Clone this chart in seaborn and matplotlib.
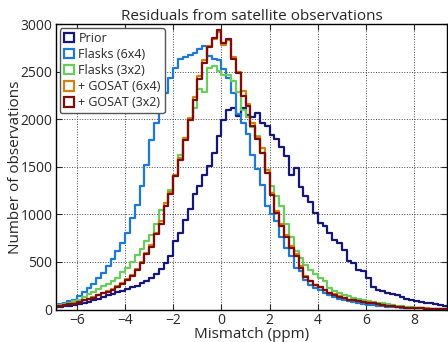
import numpy as np
import pandas as pd
import seaborn as sns
import matplotlib.pyplot as plt
from matplotlib.patches import Patch

# bins of 0.2 ppm, edges from -7.0 to 9.6
bin_edges = [round(-7.0 + 0.2 * i, 1) for i in range(84)]

series_names = ["Prior", "Flasks (6x4)", "Flasks (3x2)", "+ GOSAT (6x4)", "+ GOSAT (3x2)"]
series_colors = ["#161675", "#1f78d4", "#6ccb5f", "#cf8214", "#7d0d0d"]

# counts per bin (bin centres -6.9 ... 9.5)
prior = [25, 30, 35, 40, 50, 55, 65, 80, 95, 115,
         135, 150, 165, 180, 195, 215, 235, 250, 275, 300,
         330, 375, 430, 490, 560, 720, 800, 940, 1060, 1220,
         1300, 1420, 1510, 1650, 1820, 1990, 2100, 2120, 2040, 2120,
         2050, 2030, 2070, 1960, 1930, 1840, 1790, 1710, 1610, 1420,
         1490, 1290, 1190, 1130, 1010, 905, 880, 800, 730, 695,
         625, 505, 485, 415, 400, 330, 235, 205, 190, 170,
         160, 150, 130, 110, 100, 90, 80, 72, 65, 55,
         45, 38, 30]

flasks_6x4 = [40, 55, 70, 85, 105, 140, 180, 230, 270, 330,
              380, 460, 530, 620, 700, 800, 960, 1100, 1300, 1520,
              1780, 1960, 2120, 2280, 2440, 2540, 2640, 2660, 2680, 2700,
              2745, 2775, 2670, 2640, 2620, 2530, 2440, 2280, 2060, 1960,
              1850, 1620, 1480, 1310, 1090, 1000, 930, 760, 650, 560,
              440, 400, 310, 260, 230, 205, 170, 150, 130, 110,
              95, 85, 75, 65, 58, 50, 45, 40, 35, 30,
              27, 24, 20, 17, 15, 13, 11, 10, 9, 8,
              7, 6, 5]

flasks_3x2 = [35, 45, 55, 70, 85, 100, 130, 160, 185, 220,
              250, 270, 300, 330, 390, 440, 500, 570, 640, 720,
              780, 900, 1050, 1120, 1260, 1400, 1620, 1800, 2000, 2120,
              2320, 2290, 2540, 2557, 2510, 2470, 2470, 2400, 2290, 2100,
              2030, 1920, 1820, 1650, 1470, 1300, 1190, 1090, 900, 760,
              620, 540, 470, 420, 375, 335, 295, 225, 190, 170,
              155, 140, 120, 110, 100, 90, 80, 72, 65, 60,
              50, 40, 32, 27, 22, 18, 15, 12, 10, 9,
              8, 7, 6]

gosat_6x4 = [30, 38, 48, 58, 65, 80, 98, 115, 130, 155,
             175, 190, 215, 245, 280, 320, 365, 430, 500, 590,
             680, 800, 930, 1120, 1240, 1420, 1590, 1800, 2010, 2230,
             2460, 2620, 2770, 2850, 2920, 2780, 2830, 2660, 2500, 2300,
             2160, 1960, 1810, 1700, 1470, 1230, 1040, 900, 780, 670,
             580, 455, 355, 305, 262, 240, 210, 175, 158, 140,
             122, 105, 98, 90, 82, 74, 66, 56, 47, 40,
             34, 29, 25, 21, 18, 15, 13, 11, 9, 8,
             7, 6, 5]

gosat_3x2 = [28, 35, 45, 55, 62, 75, 95, 110, 125, 150,
             170, 185, 210, 235, 270, 310, 350, 420, 490, 580,
             660, 790, 900, 1090, 1220, 1400, 1570, 1780, 1990, 2200,
             2420, 2590, 2760, 2860, 2935, 2800, 2850, 2640, 2490, 2250,
             2140, 1930, 1790, 1650, 1440, 1200, 1010, 880, 760, 650,
             560, 440, 345, 295, 255, 235, 205, 170, 153, 135,
             118, 100, 95, 88, 80, 72, 65, 55, 45, 38,
             32, 28, 24, 20, 17, 14, 12, 10, 9, 8,
             7, 6, 5]

all_counts = [prior, flasks_6x4, flasks_3x2, gosat_6x4, gosat_3x2]


def main():
    sns.set_style("ticks")
    plt.rcParams["font.family"] = ["Open Sans", "DejaVu Sans"]

    edges = np.array(bin_edges)
    centres = (edges[:-1] + edges[1:]) / 2
    df = pd.concat([pd.DataFrame({"mismatch": centres, "count": c, "series": n})
                    for n, c in zip(series_names, all_counts)], ignore_index=True)

    fig = plt.figure(figsize=(4.48, 3.42), dpi=100)
    ax = fig.add_axes([0.125, 0.095, 0.873, 0.834])

    # one step histogram per run, last one on top
    for name, col in zip(series_names, series_colors):
        sub = df[df["series"] == name]
        sns.histplot(data=sub, x="mismatch", weights="count", bins=bin_edges,
                     element="step", fill=False, color=col, linewidth=1.6, ax=ax)

    ax.set_xlim(-6.87, 9.37)
    ax.set_ylim(0, 3000)
    ax.set_xticks([-6, -4, -2, 0, 2, 4, 6, 8])
    ax.set_yticks([0, 500, 1000, 1500, 2000, 2500, 3000])
    ax.grid(True, color="#444444", linestyle=":", linewidth=0.7)
    ax.tick_params(direction="in", top=True, right=True, labelsize=10, length=4, pad=2.5)
    for s in ax.spines.values():
        s.set_color("black")
        s.set_linewidth(1.0)

    ax.set_title("Residuals from satellite observations", fontsize=11, pad=3)
    ax.set_xlabel("Mismatch (ppm)", fontsize=11, labelpad=-1)
    ax.set_ylabel("Number of observations", fontsize=11, labelpad=-1.5)

    handles = [Patch(facecolor="none", edgecolor=c, linewidth=1.6) for c in series_colors]
    ax.legend(handles, series_names, loc="upper left", fontsize=9, frameon=True,
              fancybox=True, edgecolor="#555555", framealpha=1,
              handlelength=0.8, handleheight=0.8, handletextpad=0.4,
              borderpad=0.3, labelspacing=0.25, borderaxespad=0.3)

    fig.savefig("out.png", dpi=100)


if __name__ == "__main__":
    main()
